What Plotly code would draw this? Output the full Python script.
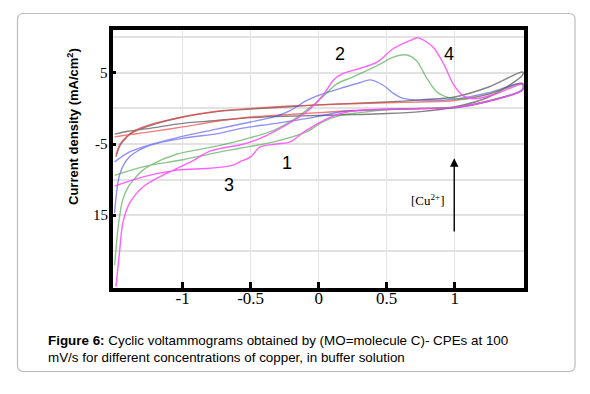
import plotly.graph_objects as go

# ---------------- data ----------------
gray_an_x = [-1.49, -1.46, -1.41, -1.36, -1.24, -1.0, -0.75, -0.5, -0.25, 0.0, 0.25, 0.5, 0.75, 1.0, 1.25, 1.5]
gray_an_y = [-6.8, -5.2, -4.0, -3.3, -2.4, -1.2, -0.45, -0.1, 0.2, 0.5, 0.7, 0.9, 1.2, 1.6, 3.0, 5.1]
gray_ca_x = [1.5, 1.25, 1.0, 0.75, 0.45, 0.2, 0.0, -0.25, -0.5, -0.75, -1.0, -1.24, -1.4, -1.5]
gray_ca_y = [4.7, 1.6, 0.2, -0.45, -0.75, -0.9, -1.0, -1.1, -1.3, -1.7, -2.1, -2.8, -3.2, -3.6]

red_an_x = [-1.49, -1.46, -1.41, -1.36, -1.24, -1.0, -0.75, -0.5, -0.25, 0.0, 0.25, 0.5, 0.75, 1.0, 1.25, 1.5]
red_an_y = [-6.5, -5.0, -3.9, -3.2, -2.3, -1.2, -0.4, 0.0, 0.3, 0.5, 0.65, 0.8, 0.9, 1.1, 2.0, 3.5]
red_ca_x = [1.5, 1.25, 1.0, 0.75, 0.5, 0.25, 0.0, -0.25, -0.5, -0.75, -1.0, -1.24, -1.4, -1.5]
red_ca_y = [2.6, 1.0, 0.1, -0.05, -0.15, -0.3, -0.6, -0.9, -1.2, -1.8, -2.6, -3.3, -3.7, -4.0]

blue_an_x = [-1.5, -1.4, -1.29, -1.04, -0.75, -0.5, -0.33, -0.21, -0.09, 0.03, 0.16, 0.3, 0.38, 0.475, 0.55, 0.62, 0.75, 1.0, 1.25, 1.5]
blue_an_y = [-7.5, -6.2, -5.4, -4.1, -2.9, -1.9, -1.2, -0.3, 1.1, 2.05, 2.8, 3.6, 4.0, 3.25, 2.1, 1.4, 1.16, 1.3, 2.2, 3.5]
blue_ca_x = [1.5, 1.25, 1.0, 0.75, 0.5, 0.3, 0.16, 0.0, -0.09, -0.33, -0.58, -0.73, -1.0, -1.24, -1.39, -1.46, -1.5]
blue_ca_y = [2.7, 1.0, 0.1, 0.0, -0.1, -0.3, -0.5, -1.1, -1.44, -2.14, -2.84, -3.5, -4.2, -5.2, -6.8, -9.1, -14.7]

green_an_x = [-1.5, -1.47, -1.44, -1.4, -1.36, -1.3, -1.24, -1.04, -0.75, -0.5, -0.33, -0.21, -0.09, 0.03, 0.13, 0.25, 0.43, 0.55, 0.65, 0.72, 0.79, 0.87, 0.97, 1.09, 1.25, 1.5]
green_an_y = [-22.0, -16.0, -12.8, -11.0, -10.0, -8.8, -8.0, -6.4, -5.3, -4.1, -3.07, -1.9, -0.28, 1.6, 3.4, 4.4, 6.0, 7.2, 7.5, 6.7, 4.4, 2.3, 1.45, 1.35, 2.0, 3.4]
green_ca_x = [1.5, 1.25, 1.0, 0.75, 0.5, 0.3, 0.16, 0.03, -0.09, -0.33, -0.58, -0.75, -1.0, -1.29, -1.5]
green_ca_y = [2.6, 1.1, 0.2, 0.0, -0.2, -0.6, -0.98, -1.9, -3.3, -4.7, -5.6, -6.2, -7.2, -8.2, -9.4]

pink_an_x = [-1.49, -1.46, -1.44, -1.39, -1.29, -1.17, -1.04, -0.92, -0.8, -0.55, -0.43, -0.33, -0.09, 0.03, 0.11, 0.18, 0.3, 0.43, 0.55, 0.67, 0.73, 0.84, 0.92, 0.99, 1.06, 1.14, 1.3, 1.5]
pink_an_y = [-25.0, -19.4, -16.1, -13.3, -11.0, -9.6, -8.4, -7.3, -6.0, -5.0, -4.2, -3.3, -0.51, 1.8, 4.0, 4.9, 5.6, 6.5, 8.4, 9.5, 9.9, 8.6, 6.2, 3.4, 1.8, 1.35, 2.0, 3.4]
pink_ca_x = [1.5, 1.25, 1.0, 0.82, 0.6, 0.38, 0.21, 0.08, -0.1, -0.21, -0.31, -0.43, -0.5, -0.58, -0.63, -0.8, -1.04, -1.29, -1.5]
pink_ca_y = [2.6, 1.0, 0.15, 0.0, -0.1, -0.18, -0.5, -1.3, -3.2, -4.7, -5.0, -5.4, -6.8, -7.5, -7.96, -8.4, -8.66, -9.6, -10.9]

x_tick_vals = [-1, -0.5, 0, 0.5, 1]
x_tick_text = ["-1", "-0.5", "0", "0.5", "1"]
y_tick_vals = [5, -5, -15]
y_tick_text = ["5", "-5", "15"]
y_grid_vals = [10, 0, -10, -20]

peak_labels = ["1", "2", "3", "4"]
peak_x = [-0.23, 0.16, -0.66, 0.96]
peak_y = [-7.6, 7.6, -10.75, 7.6]

# ---------------- figure ----------------
W, H = 590, 394
L, R, T, B = 113, 66, 30, 106
pw, ph = W - L - R, H - T - B

def px(xp):
    return (xp - L) / pw

def py(yp):
    return (H - B - yp) / ph

fig = go.Figure()
series = [
    (gray_an_x, gray_an_y, gray_ca_x, gray_ca_y, "rgba(90,90,90,0.75)"),
    (red_an_x, red_an_y, red_ca_x, red_ca_y, "rgba(240,70,70,0.7)"),
    (blue_an_x, blue_an_y, blue_ca_x, blue_ca_y, "rgba(70,70,240,0.6)"),
    (green_an_x, green_an_y, green_ca_x, green_ca_y, "rgba(60,160,60,0.6)"),
    (pink_an_x, pink_an_y, pink_ca_x, pink_ca_y, "rgba(255,70,255,0.85)"),
]
for ax_, ay_, cx_, cy_, col in series:
    fig.add_trace(go.Scatter(
        x=ax_ + cx_, y=ay_ + cy_, mode="lines",
        line=dict(color=col, width=1.4, shape="spline", smoothing=0.9),
        hoverinfo="skip", showlegend=False))

serif = "Liberation Serif"
sans = "Liberation Sans"

fig.update_layout(
    width=W, height=H,
    margin=dict(l=L, r=R, t=T, b=B),
    paper_bgcolor="white", plot_bgcolor="white",
    showlegend=False,
    xaxis=dict(
        range=[-1.512, 1.51], tickvals=x_tick_vals, ticktext=x_tick_text,
        showgrid=True, gridcolor="#e4e4e4", gridwidth=1,
        zeroline=False, showline=True, linecolor="black", linewidth=4, mirror=True,
        ticks="inside", ticklen=6, tickwidth=2.5, tickcolor="black",
        ticklabelstandoff=-8,
        tickfont=dict(family=serif, size=17, color="black")),
    yaxis=dict(
        range=[-25.2, 11.0], tickvals=y_tick_vals, showticklabels=False,
        showgrid=True, gridcolor="#e2e2e2", gridwidth=2,
        zeroline=False, showline=True, linecolor="black", linewidth=4, mirror=True,
        ticks="inside", ticklen=3, tickwidth=3, tickcolor="black",
        minor=dict(tickvals=y_grid_vals, showgrid=True, gridcolor="#e2e2e2", gridwidth=2, ticks="")),
)

# y tick labels placed next to the axis line
for v, t in zip(y_tick_vals, y_tick_text):
    fig.add_annotation(xref="paper", yref="y", x=px(110), y=v, text=t,
                       xanchor="right", showarrow=False,
                       font=dict(family=serif, size=15, color="black"))

# peak labels
for t, xx, yy in zip(peak_labels, peak_x, peak_y):
    fig.add_annotation(x=xx, y=yy, text=t, showarrow=False,
                       font=dict(family=sans, size=18, color="black"))

# concentration arrow
fig.add_annotation(x=0.997, y=-7.0, ax=0.997, ay=-17.5, axref="x", ayref="y",
                   xref="x", yref="y", text="", showarrow=True,
                   arrowhead=2, arrowsize=1.2, arrowwidth=1.4, arrowcolor="black")
fig.add_annotation(x=0.806, y=-12.85, text="[Cu<sup>2+</sup>]", showarrow=False,
                   font=dict(family=serif, size=13, color="black"))

# y-axis title
fig.add_annotation(xref="paper", yref="paper", x=px(63), y=py(127),
                   text="<b>Current density (mA/cm<sup>2</sup>)</b>", textangle=-90,
                   showarrow=False, font=dict(family=sans, size=13, color="black"))

# caption
fig.add_annotation(xref="paper", yref="paper", x=px(46), y=py(331),
                   xanchor="left", yanchor="top", align="left", showarrow=False,
                   text="<b>Figure 6:</b> Cyclic voltammograms obtained by (MO=molecule C)- CPEs at 100<br>mV/s for different concentrations of copper, in buffer solution",
                   font=dict(family=sans, size=13.4, color="black"))

# outer rounded frame
x0, x1, y0, y1 = px(17.5), px(575), py(13.5), py(371.5)
rx, ry = 6 / pw, 6 / ph
path = (f"M {x0+rx},{y0} L {x1-rx},{y0} Q {x1},{y0} {x1},{y0-ry} "
        f"L {x1},{y1+ry} Q {x1},{y1} {x1-rx},{y1} "
        f"L {x0+rx},{y1} Q {x0},{y1} {x0},{y1+ry} "
        f"L {x0},{y0-ry} Q {x0},{y0} {x0+rx},{y0} Z")
fig.add_shape(type="path", path=path, xref="paper", yref="paper",
              line=dict(color="#bcbcbc", width=1.2), layer="below")

fig.write_html("out.html", config={"displayModeBar": False},
               post_script="document.body.style.margin='0';document.body.style.overflow='hidden';")
